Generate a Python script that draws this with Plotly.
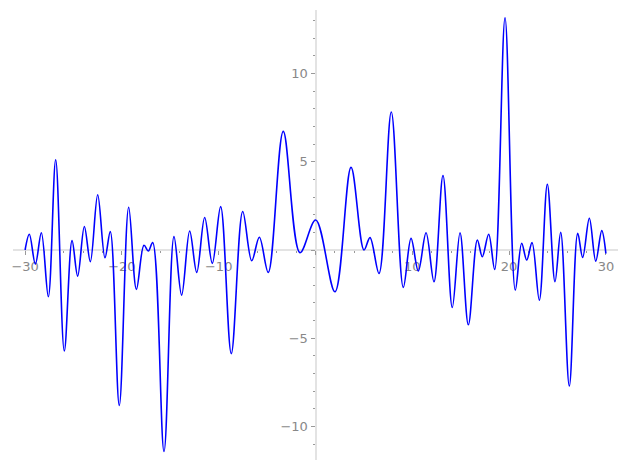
import plotly.graph_objects as go

# local extrema
x_vals = [
    -30.0, -29.56, -28.94, -28.32, -27.6, -26.84, -25.95, -25.15, -24.57, -23.88,
    -23.26, -22.5, -21.75, -21.2, -20.27, -19.3, -18.5, -17.72, -17.27, -16.82,
    -15.65, -14.62, -13.83, -13.0, -12.27, -11.45, -10.66, -9.8, -8.7, -7.52,
    -6.59, -5.8, -4.88, -3.33, -1.6, 0.02, 2.01, 3.67, 5.01, 5.63,
    6.56, 7.83, 9.07, 9.87, 10.62, 11.42, 12.24, 13.17, 14.13, 14.93,
    15.79, 16.72, 17.23, 17.89, 18.51, 19.58, 20.64, 21.3, 21.82, 22.37,
    23.12, 23.95, 24.74, 25.33, 26.22, 27.09, 27.6, 28.29, 28.95, 29.57,
    30.0,
]
y_vals = [
    0.0, 0.89, -0.80, 0.98, -2.65, 5.11, -5.72, 0.53, -1.48, 1.33,
    -0.66, 3.13, -0.44, 1.04, -8.81, 2.42, -2.23, 0.27, -0.06, 0.42,
    -11.42, 0.76, -2.56, 1.08, -1.27, 1.84, -0.76, 2.46, -5.87, 2.18,
    -0.61, 0.72, -1.27, 6.72, -0.15, 1.70, -2.37, 4.68, 0.0, 0.70,
    -1.33, 7.82, -2.12, 0.66, -1.19, 0.98, -1.80, 4.22, -3.26, 0.98,
    -4.24, 0.57, -0.38, 0.89, -1.10, 13.16, -2.27, 0.38, -0.57, 0.42,
    -2.84, 3.73, -1.80, 1.0, -7.71, 0.95, -0.42, 1.80, -0.63, 1.10,
    -0.2,
]

x_ticks = [-30, -20, -10, 0, 10, 20, 30]
x_labels = ["−30", "−20", "−10", "", "10", "20", "30"]
y_ticks = [-10, -5, 0, 5, 10]
y_labels = ["−10", "−5", "", "5", "10"]

x_range = [-31.25, 31.25]
y_range = [-11.9, 13.6]

fig = go.Figure()
fig.add_trace(go.Scatter(
    x=x_vals, y=y_vals, mode="lines",
    line=dict(color="#0000ff", width=1.6, shape="spline", smoothing=1.0),
    hoverinfo="skip",
))

axis_common = dict(
    showgrid=False, zeroline=False, showline=True,
    linecolor="#e3e3e3", linewidth=2,
    ticks="outside", ticklen=4, tickwidth=1, tickcolor="#999999",
    tickfont=dict(family="DejaVu Sans", size=13, color="#888888"),
    anchor="free", automargin=False, layer="below traces",
)

# page body has an 8px margin, so the figure is shrunk and shifted to fit
fig.update_layout(
    width=619, height=462,
    margin=dict(l=5, r=9, t=2, b=10),
    plot_bgcolor="white", paper_bgcolor="white",
    showlegend=False,
    xaxis=dict(
        axis_common, range=x_range,
        tickvals=x_ticks, ticktext=x_labels,
        position=(0 - y_range[0]) / (y_range[1] - y_range[0]),
        minor=dict(dtick=2, ticks="outside", ticklen=2, tickcolor="#999999"),
    ),
    yaxis=dict(
        axis_common, range=y_range,
        tickvals=y_ticks, ticktext=y_labels,
        position=(0 - x_range[0]) / (x_range[1] - x_range[0]),
        minor=dict(dtick=1, ticks="outside", ticklen=2, tickcolor="#999999"),
    ),
)

fig.write_html("out.html")
